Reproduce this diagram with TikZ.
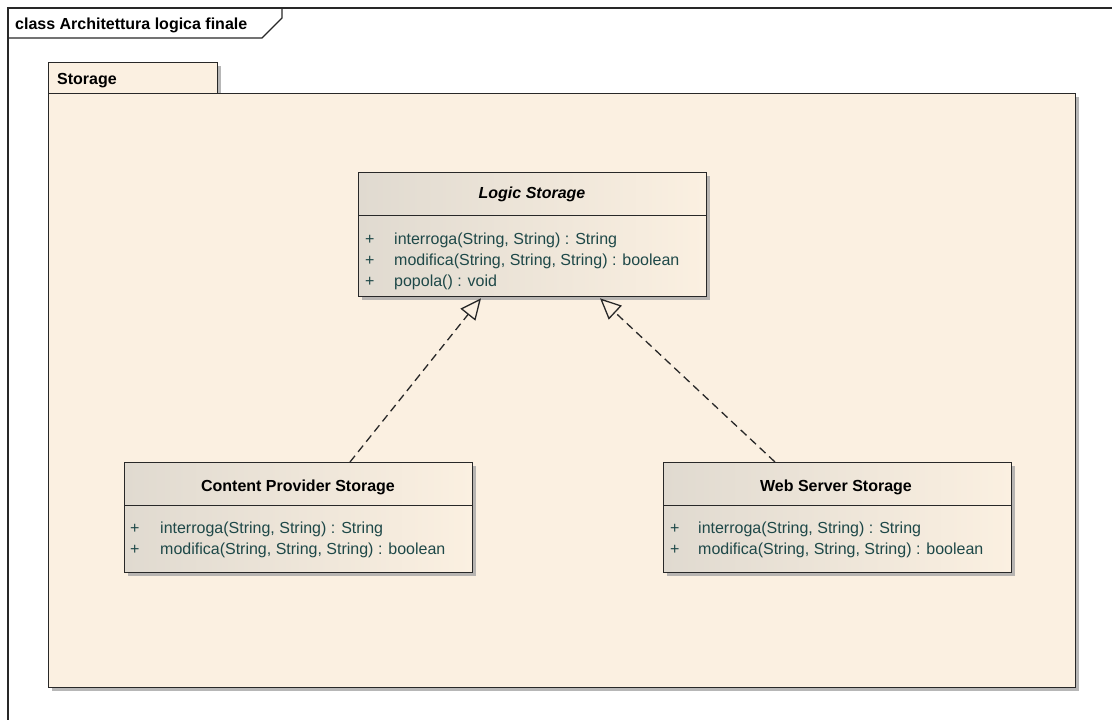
\documentclass[tikz,border=0pt]{standalone}
\usepackage{fontspec}
\setmainfont{Liberation Sans}
\usetikzlibrary{arrows.meta,calc,shadows}
\definecolor{cream}{RGB}{251,240,225}
\definecolor{shadeL}{RGB}{224,218,208}
\definecolor{opcol}{RGB}{30,72,72}
\definecolor{edge}{RGB}{40,40,40}
\tikzset{
  pkg/.style={draw=edge, line width=1.4pt, fill=cream, drop shadow={shadow xshift=3pt, shadow yshift=-3pt, fill=black!35, opacity=0.8}},
  classbox/.style={draw=edge, line width=1.3pt, left color=shadeL, right color=cream, inner sep=0pt,
     drop shadow={shadow xshift=3pt, shadow yshift=-3pt, fill=black!35, opacity=0.8}},
  ctitle/.style={font=\fontsize{16}{18}\selectfont\bfseries, text=black},
  op/.style={font=\fontsize{16}{18}\selectfont, text=opcol, anchor=base west, inner sep=0pt},
  realiz/.style={draw=edge, line width=1.3pt, dash pattern=on 8pt off 5pt,
     -{Triangle[open, length=21pt, width=19pt, fill=cream]}},
  frametext/.style={font=\fontsize{16}{18}\selectfont\bfseries, anchor=base west, inner sep=0pt}
}
\begin{document}
\begin{tikzpicture}[x=1pt,y=-1pt]
\useasboundingbox[fill=white] (0,0) rectangle (1112,720);
% outer frame
\draw[edge, line width=1.2pt] (8,730) -- (8,8) -- (1120,8);
\draw[edge, line width=1.2pt] (8,38) -- (262,38) -- (282,18) -- (282,8);
\node[frametext] (ftitle) at (15,29) {class Architettura logica finale};
% package
\node[pkg, minimum width=169pt, minimum height=31pt, anchor=north west, inner sep=0pt] (ptab) at (48,62) {};
\node[pkg, minimum width=1027pt, minimum height=594pt, anchor=north west, inner sep=0pt] (pbody) at (48,93) {};
\node[frametext] (ptitle) at (57,84) {Storage};
% Logic Storage
\node[classbox, minimum width=348pt, minimum height=124pt, anchor=north west] (ls) at (358,172) {};
\draw[edge, line width=1pt] (ls.west |- 0,215) -- (ls.east |- 0,215);
\node[ctitle, font=\fontsize{16}{18}\selectfont\bfseries\itshape] (lst) at (532,194) {Logic Storage};
\node[op] (ls1p) at (365,244) {+};
\node[op] (ls1) at (394,244) {interroga(String, String) : String};
\node[op] (ls2p) at (365,265) {+};
\node[op] (ls2) at (394,265) {modifica(String, String, String) : boolean};
\node[op] (ls3p) at (365,286) {+};
\node[op] (ls3) at (394,286) {popola() : void};
% Content Provider Storage
\node[classbox, minimum width=348pt, minimum height=110pt, anchor=north west] (cps) at (124,462) {};
\draw[edge, line width=1pt] (cps.west |- 0,505) -- (cps.east |- 0,505);
\node[ctitle] (cpst) at (298,487) {Content Provider Storage};
\node[op] (cps1p) at (130,533) {+};
\node[op] (cps1) at (160,533) {interroga(String, String) : String};
\node[op] (cps2p) at (130,554) {+};
\node[op] (cps2) at (160,554) {modifica(String, String, String) : boolean};
% Web Server Storage
\node[classbox, minimum width=348pt, minimum height=110pt, anchor=north west] (wss) at (663,462) {};
\draw[edge, line width=1pt] (wss.west |- 0,505) -- (wss.east |- 0,505);
\node[ctitle] (wsst) at (836,487) {Web Server Storage};
\node[op] (wss1p) at (670,533) {+};
\node[op] (wss1) at (698,533) {interroga(String, String) : String};
\node[op] (wss2p) at (670,554) {+};
\node[op] (wss2) at (698,554) {modifica(String, String, String) : boolean};
% realizations
\draw[realiz] ($(cps.north west)+(226,0)$) -- ($(ls.south west)+(123,1)$);
\draw[realiz] ($(wss.north west)+(112,0)$) -- ($(ls.south west)+(242,1)$);
\end{tikzpicture}
\end{document}
